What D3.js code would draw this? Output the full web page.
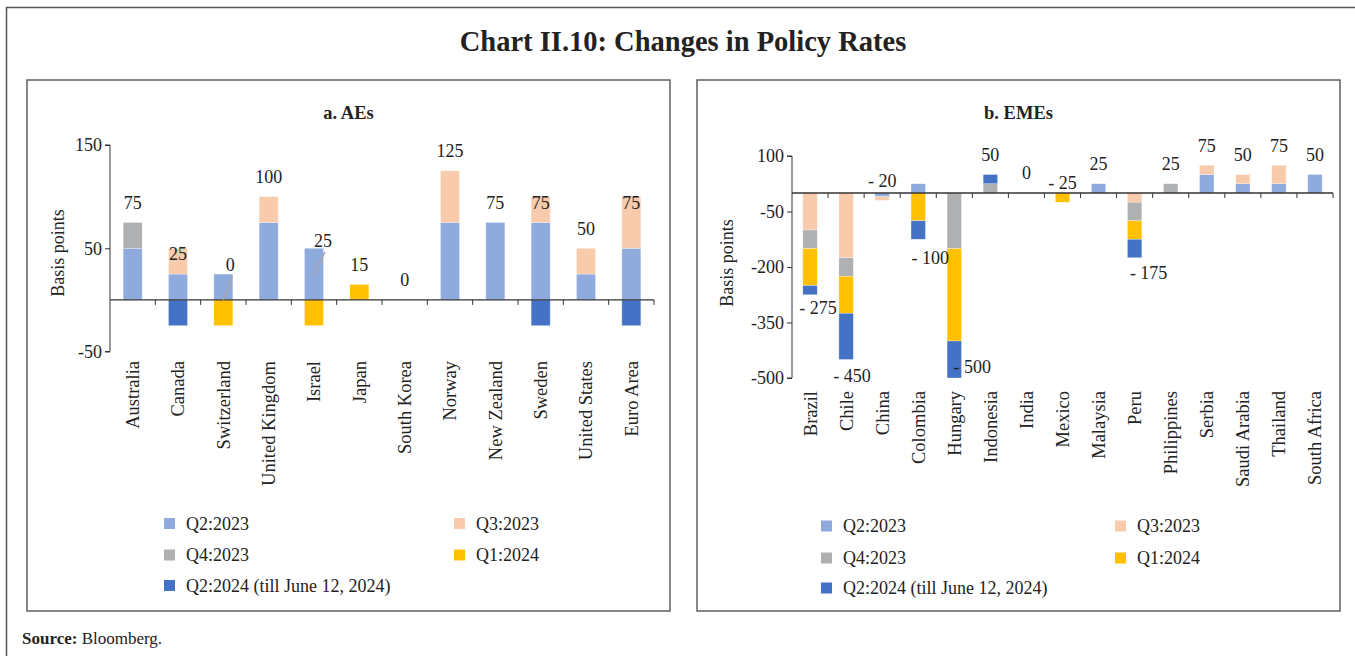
<!DOCTYPE html>
<html>
<head>
<meta charset="utf-8">
<script src="https://cdn.jsdelivr.net/npm/d3@7"></script>
<style>
  html, body { margin: 0; padding: 0; background: #fff; }
  svg { display: block; }
  text { font-family: "Liberation Serif", "DejaVu Serif", serif; fill: #222; }
</style>
</head>
<body>
<svg id="chart" width="1355" height="656"></svg>
<script>
// ---------------- DATA ----------------
const seriesNames = ["Q2:2023", "Q3:2023", "Q4:2023", "Q1:2024", "Q2:2024 (till June 12, 2024)"];
const seriesColors = ["#8FAADC", "#F8CBAD", "#AFB0B2", "#FFC000", "#4472C4"];

const aeCountries = ["Australia", "Canada", "Switzerland", "United Kingdom", "Israel", "Japan",
  "South Korea", "Norway", "New Zealand", "Sweden", "United States", "Euro Area"];
const aeQ2_2023 = [50, 25, 25, 75, 50, 0, 0, 75, 75, 75, 25, 50];
const aeQ3_2023 = [0, 25, 0, 25, 0, 0, 0, 50, 0, 25, 25, 50];
const aeQ4_2023 = [25, 0, 0, 0, 0, 0, 0, 0, 0, 0, 0, 0];
const aeQ1_2024 = [0, 0, -25, 0, -25, 15, 0, 0, 0, 0, 0, 0];
const aeQ2_2024 = [0, -25, 0, 0, 0, 0, 0, 0, 0, -25, 0, -25];
const aeTotals = [75, 25, 0, 100, 25, 15, 0, 125, 75, 75, 50, 75];
const aeTicks = [-50, 50, 150];

const emeCountries = ["Brazil", "Chile", "China", "Colombia", "Hungary", "Indonesia", "India",
  "Mexico", "Malaysia", "Peru", "Philippines", "Serbia", "Saudi Arabia", "Thailand", "South Africa"];
const emeQ2_2023 = [0, 0, -10, 25, 0, 0, 0, 0, 25, 0, 0, 50, 25, 25, 50];
const emeQ3_2023 = [-100, -175, -10, 0, 0, 0, 0, 0, 0, -25, 0, 25, 25, 50, 0];
const emeQ4_2023 = [-50, -50, 0, 0, -150, 25, 0, 0, 0, -50, 25, 0, 0, 0, 0];
const emeQ1_2024 = [-100, -100, 0, -75, -250, 0, 0, -25, 0, -50, 0, 0, 0, 0, 0];
const emeQ2_2024 = [-25, -125, 0, -50, -100, 25, 0, 0, 0, -50, 0, 0, 0, 0, 0];
const emeTotals = [-275, -450, -20, -100, -500, 50, 0, -25, 25, -175, 25, 75, 50, 75, 50];
const emeTicks = [-500, -350, -200, -50, 100];

// ---------------- LAYOUT (label nudges, px) ----------------
const aeLabelNudge = { "Switzerland": [7, -15, true], "Israel": [9, -13, true] };
const emeLabelNudge = { "Brazil": [8, 33], "Chile": [6, 36], "Colombia": [12, 48],
  "Hungary": [18, 9], "Peru": [14, 35] };

const svg = d3.select("#chart");

// outer frame
svg.append("path").attr("d", "M6.5,660 V7.5 H1360")
  .attr("fill", "none").attr("stroke", "#555").attr("stroke-width", 1.5);

svg.append("text").attr("x", 683).attr("y", 51).attr("text-anchor", "middle")
  .style("font-size", "28.5px").style("font-weight", "bold")
  .text("Chart II.10: Changes in Policy Rates");

svg.append("text").attr("x", 22).attr("y", 644)
  .style("font-size", "17px")
  .call(t => {
    t.append("tspan").style("font-weight", "bold").text("Source:");
    t.append("tspan").text(" Bloomberg.");
  });

function fmtLabel(v) { return v < 0 ? "- " + Math.abs(v) : String(v); }

function drawPanel(cfg) {
  const g = svg.append("g");
  g.append("rect").attr("x", cfg.box[0]).attr("y", cfg.box[1])
    .attr("width", cfg.box[2] - cfg.box[0]).attr("height", cfg.box[3] - cfg.box[1])
    .attr("fill", "none").attr("stroke", "#5f5f5f").attr("stroke-width", 1.5);

  g.append("text").attr("x", (cfg.box[0] + cfg.box[2]) / 2).attr("y", 119)
    .attr("text-anchor", "middle").style("font-size", "18.5px").style("font-weight", "bold")
    .text(cfg.title);

  const x = d3.scaleBand().domain(cfg.countries).range([cfg.x0, cfg.x1]).paddingInner(cfg.pad).paddingOuter(cfg.pad / 2);
  const xb = d3.scaleBand().domain(cfg.countries).range([cfg.x0, cfg.x1]);
  const y = d3.scaleLinear().domain(cfg.domain).range([cfg.yBottom, cfg.yTop]);

  const rows = cfg.countries.map((c, i) => {
    const o = { country: c };
    seriesNames.forEach((s, k) => { o[s] = cfg.series[k][i]; });
    return o;
  });
  const stack = d3.stack().keys(seriesNames).offset(d3.stackOffsetDiverging)(rows);

  g.selectAll("g.layer").data(stack).join("g").attr("class", "layer")
    .attr("fill", (d, k) => seriesColors[k])
    .selectAll("rect").data(d => d.filter(p => p[1] - p[0] !== 0)).join("rect")
    .attr("x", d => x(d.data.country))
    .attr("width", x.bandwidth())
    .attr("y", d => y(Math.max(d[0], d[1])))
    .attr("height", d => Math.abs(y(d[0]) - y(d[1])))
    .attr("stroke", "#ffffff").attr("stroke-opacity", 0.5).attr("stroke-width", 0.6);

  // y axis
  const yAxis = d3.axisLeft(y).tickValues(cfg.ticks).tickSize(5).tickPadding(3).tickFormat(d => String(d));
  const ya = g.append("g").attr("transform", `translate(${cfg.x0},0)`).call(yAxis);
  ya.select(".domain").attr("stroke", "#333").attr("d", `M-5,${y(cfg.domain[0])}H0V${y(cfg.domain[1])}H-5`);
  ya.selectAll(".tick line").attr("stroke", "#333");
  ya.selectAll(".tick text").style("font-size", "18px").attr("fill", "#222")
    .style("font-family", "'Liberation Serif', serif");

  // x axis at zero, ticks at band boundaries
  const boundaries = cfg.countries.map(c => xb(c)).concat([cfg.x1]);
  const xa = g.append("g");
  xa.append("line").attr("x1", cfg.x0).attr("x2", cfg.x1).attr("y1", y(0)).attr("y2", y(0))
    .attr("stroke", "#333").attr("stroke-width", 1.3);
  xa.selectAll("line.tk").data(boundaries.slice(1)).join("line").attr("class", "tk")
    .attr("x1", d => d).attr("x2", d => d).attr("y1", y(0)).attr("y2", y(0) + 5)
    .attr("stroke", "#333");

  // category labels
  g.selectAll("text.cat").data(cfg.countries).join("text").attr("class", "cat")
    .attr("transform", c => `translate(${xb(c) + xb.bandwidth() / 2},${cfg.catTop}) rotate(-90)`)
    .attr("text-anchor", "end").attr("dy", "0.35em").style("font-size", "18.5px")
    .text(c => c);

  // y title
  g.append("text")
    .attr("transform", `translate(${cfg.yTitle[0]},${cfg.yTitle[1]}) rotate(-90)`)
    .attr("text-anchor", "middle").attr("dy", "0.35em").style("font-size", "18px")
    .text("Basis points");

  // total labels
  cfg.countries.forEach((c, i) => {
    const v = cfg.totals[i];
    const cx = xb(c) + xb.bandwidth() / 2;
    const py = y(v);
    const n = cfg.nudge[c];
    let dx = 0, dy = -20, leader = false;
    if (n) { dx = n[0]; dy = -20 + n[1]; leader = !!n[2]; }
    if (leader) {
      g.append("line").attr("x1", cx).attr("y1", py).attr("x2", cx + dx + 2).attr("y2", py + dy + 11)
        .attr("stroke", "#A6A6A6").attr("stroke-width", 1.5);
    }
    g.append("text").attr("x", cx + dx).attr("y", py + dy).attr("dy", "0.35em")
      .attr("text-anchor", "middle").style("font-size", "18px")
      .text(fmtLabel(v));
  });

  // legend
  const lg = g.append("g");
  seriesNames.forEach((s, k) => {
    const col = k % 2, row = Math.floor(k / 2);
    const lx = cfg.legend.x[col], ly = cfg.legend.y[row];
    lg.append("rect").attr("x", lx).attr("y", ly - 5.5).attr("width", 11).attr("height", 11)
      .attr("fill", seriesColors[k]);
    lg.append("text").attr("x", lx + 22).attr("y", ly).attr("dy", "0.35em")
      .style("font-size", "18px").text(s);
  });
}

drawPanel({
  title: "a. AEs",
  box: [27, 80, 670, 611],
  countries: aeCountries,
  series: [aeQ2_2023, aeQ3_2023, aeQ4_2023, aeQ1_2024, aeQ2_2024],
  totals: aeTotals,
  ticks: aeTicks,
  domain: [-50, 150],
  x0: 110, x1: 654, yTop: 145, yBottom: 351.5,
  pad: 0.58,
  catTop: 361,
  yTitle: [58, 253],
  nudge: aeLabelNudge,
  legend: { x: [164, 454], y: [523.5, 555, 585.5] }
});

drawPanel({
  title: "b. EMEs",
  box: [697, 80, 1340, 611],
  countries: emeCountries,
  series: [emeQ2_2023, emeQ3_2023, emeQ4_2023, emeQ1_2024, emeQ2_2024],
  totals: emeTotals,
  ticks: emeTicks,
  domain: [-500, 100],
  x0: 792, x1: 1333, yTop: 156, yBottom: 378,
  pad: 0.6,
  catTop: 391,
  yTitle: [727, 263],
  nudge: emeLabelNudge,
  legend: { x: [821, 1115], y: [526, 558, 588] }
});
</script>
</body>
</html>
